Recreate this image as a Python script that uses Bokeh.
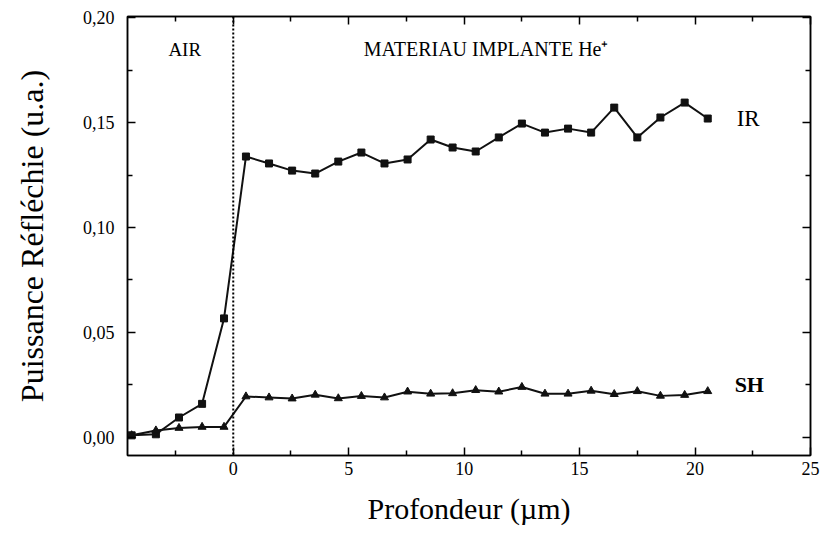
from bokeh.plotting import figure
from bokeh.models import Range1d, LinearAxis, FixedTicker, Span, Label, CustomJSTickFormatter
from bokeh.embed import file_html
from bokeh.resources import INLINE

# ---- data ----
depth = [-4.4, -3.35, -2.35, -1.35, -0.4, 0.55, 1.55, 2.55, 3.55, 4.55, 5.55, 6.55,
         7.55, 8.55, 9.5, 10.5, 11.5, 12.5, 13.5, 14.5, 15.5, 16.5, 17.5, 18.5,
         19.55, 20.55]
ir = [0.001, 0.0015, 0.0095, 0.016, 0.0567, 0.1338, 0.1305, 0.1271, 0.1257, 0.1314,
      0.1357, 0.1305, 0.1324, 0.1419, 0.1381, 0.1362, 0.1429, 0.1495, 0.1452, 0.1471,
      0.1452, 0.1571, 0.1429, 0.1524, 0.1595, 0.1519]
sh = [0.001, 0.0033, 0.0045, 0.005, 0.005, 0.0195, 0.019, 0.0185, 0.0203, 0.0186,
      0.0197, 0.019, 0.0218, 0.0208, 0.021, 0.0225, 0.0218, 0.024, 0.0208, 0.0208,
      0.0222, 0.0206, 0.022, 0.0198, 0.0202, 0.022]

x_ticks = [0, 5, 10, 15, 20, 25]
x_tick_labels = ["0", "5", "10", "15", "20", "25"]
y_ticks = [0.0, 0.05, 0.10, 0.15, 0.20]
y_tick_labels = ["0,00", "0,05", "0,10", "0,15", "0,20"]

SERIF = "'Liberation Serif', 'Times New Roman', serif"

x_minor = [-2.5] + [t + 2.5 for t in x_ticks[:-1]]
y_minor = [t + 0.025 for t in y_ticks[:-1]]

p = figure(width=822, height=533,
           x_range=Range1d(-4.58, 25), y_range=Range1d(-0.0086, 0.2005),
           output_backend="svg", toolbar_location=None,
           min_border_left=127, min_border_right=12, min_border_top=16,
           min_border_bottom=78)
p.grid.visible = False
p.outline_line_color = "black"
p.outline_line_width = 1.5
p.background_fill_color = "white"
p.border_fill_color = "white"

def style_axis(ax, ticks, minor):
    ax.ticker = FixedTicker(ticks=ticks, minor_ticks=minor)
    ax.axis_line_color = "black"
    ax.axis_line_width = 1.5
    ax.major_tick_line_color = "black"
    ax.minor_tick_line_color = "black"
    ax.major_tick_line_width = 1.5
    ax.minor_tick_line_width = 1.5
    ax.major_tick_in = 8
    ax.major_tick_out = 0
    ax.minor_tick_in = 5
    ax.minor_tick_out = 0

xa = p.xaxis[0]
style_axis(xa, x_ticks, x_minor)
xa.major_label_overrides = {t: l for t, l in zip(x_ticks, x_tick_labels)}
xa.major_label_text_font = SERIF
xa.major_label_text_font_size = "18px"
xa.major_label_text_color = "black"
xa.major_label_standoff = 6
xa.axis_label = "Profondeur (µm)"
xa.axis_label_text_font = SERIF
xa.axis_label_text_font_size = "30px"
xa.axis_label_text_font_style = "normal"
xa.axis_label_text_color = "black"
xa.axis_label_standoff = 14

ya = p.yaxis[0]
style_axis(ya, y_ticks, y_minor)
ya.major_label_overrides = {t: l for t, l in zip(y_ticks, y_tick_labels)}
ya.major_label_text_font = SERIF
ya.major_label_text_font_size = "18px"
ya.major_label_text_color = "black"
ya.major_label_standoff = 13
ya.axis_label = "Puissance Réfléchie (u.a.)"
ya.axis_label_text_font = SERIF
ya.axis_label_text_font_size = "32px"
ya.axis_label_text_font_style = "normal"
ya.axis_label_text_color = "black"
ya.axis_label_standoff = 30

blank = CustomJSTickFormatter(code="return '';")
top = LinearAxis(formatter=blank, major_label_standoff=0)
style_axis(top, x_ticks, x_minor)
p.add_layout(top, "above")
right = LinearAxis(formatter=blank, major_label_standoff=0)
style_axis(right, y_ticks, y_minor)
p.add_layout(right, "right")

# interface line
p.add_layout(Span(location=0, dimension="height", line_color="black",
                  line_width=2, line_dash="2 2"))

p.line(depth, ir, line_color="#111111", line_width=2)
p.scatter(depth, ir, marker="square", size=7, fill_color="#111111", line_color="#111111")
p.line(depth, sh, line_color="#111111", line_width=2)
p.scatter(depth, sh, marker="triangle", size=8, fill_color="#111111", line_color="#111111")

labels = [
    ("AIR", -2.1, 0.185, "19px", "normal"),
    ("MATERIAU IMPLANTE He\u207a", 10.95, 0.185, "20px", "normal"),
    ("IR", 22.3, 0.152, "23px", "normal"),
    ("SH", 22.35, 0.0252, "22px", "bold"),
]
for txt, x, y, fs, st in labels:
    p.add_layout(Label(x=x, y=y, text=txt, text_font=SERIF, text_font_size=fs,
                       text_font_style=st, text_align="center", text_baseline="middle",
                       text_color="black"))

open("out.html", "w").write(file_html(p, INLINE))
